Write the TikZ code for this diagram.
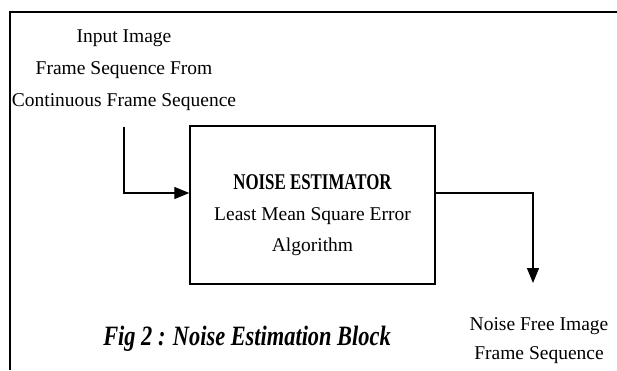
\documentclass[tikz,border=0pt]{standalone}
\usepackage{fontspec}
\setmainfont{Liberation Serif}
\newfontfamily\narrowfont[FakeStretch=0.75]{Liberation Serif}
\newfontfamily\capfont[FakeStretch=0.8]{Liberation Serif}
\usetikzlibrary{arrows.meta,calc}

\begin{document}
\begin{tikzpicture}[x=1pt,y=-1pt,>={Triangle[length=15pt,width=12pt]},
    txt/.style={align=center,inner sep=0pt,font=\fontsize{19.5}{32}\selectfont},
    blk/.style={draw,line width=1.4pt,minimum width=245pt,minimum height=158pt,inner sep=0pt},
    flow/.style={line width=1.3pt}]
    \useasboundingbox (0,0) rectangle (617,370);

    % Moldura
    \draw[line width=1.4pt] (10,370) -- (10,12) -- (617,12);

    % Entrada
    \node[txt] (inp) at (124,70) {Input Image\\Frame Sequence From\\Continuous Frame Sequence};

    % Bloco
    \node[blk] (box) at (312.5,205) {};
    \node[txt, font=\fontsize{19.5}{31}\selectfont] (est) at ($(box.center)+(0,10)$)
        {{\narrowfont\fontsize{22.5}{31}\selectfont\bfseries NOISE ESTIMATOR}\\Least Mean Square Error\\Algorithm};
    \coordinate (in) at ($(box.west)+(0,-12)$);
    \coordinate (outst) at ($(box.east)+(0,-12)$);
    \draw[flow,->] ($(inp.south)+(0,16)$) |- (in);

    % Saida
    \node[txt, font=\fontsize{19.5}{29}\selectfont] (out) at (539,341) {Noise Free Image\\Frame Sequence};
    \coordinate (outend) at (533,283);
    \draw[flow,->] (outst) -| (outend);

    % Legenda
    \node[font=\capfont\fontsize{28}{32}\selectfont\bfseries\itshape, inner sep=0pt, anchor=base] (cap) at (247,345) {Fig 2 : Noise Estimation Block};
\end{tikzpicture}
\end{document}
